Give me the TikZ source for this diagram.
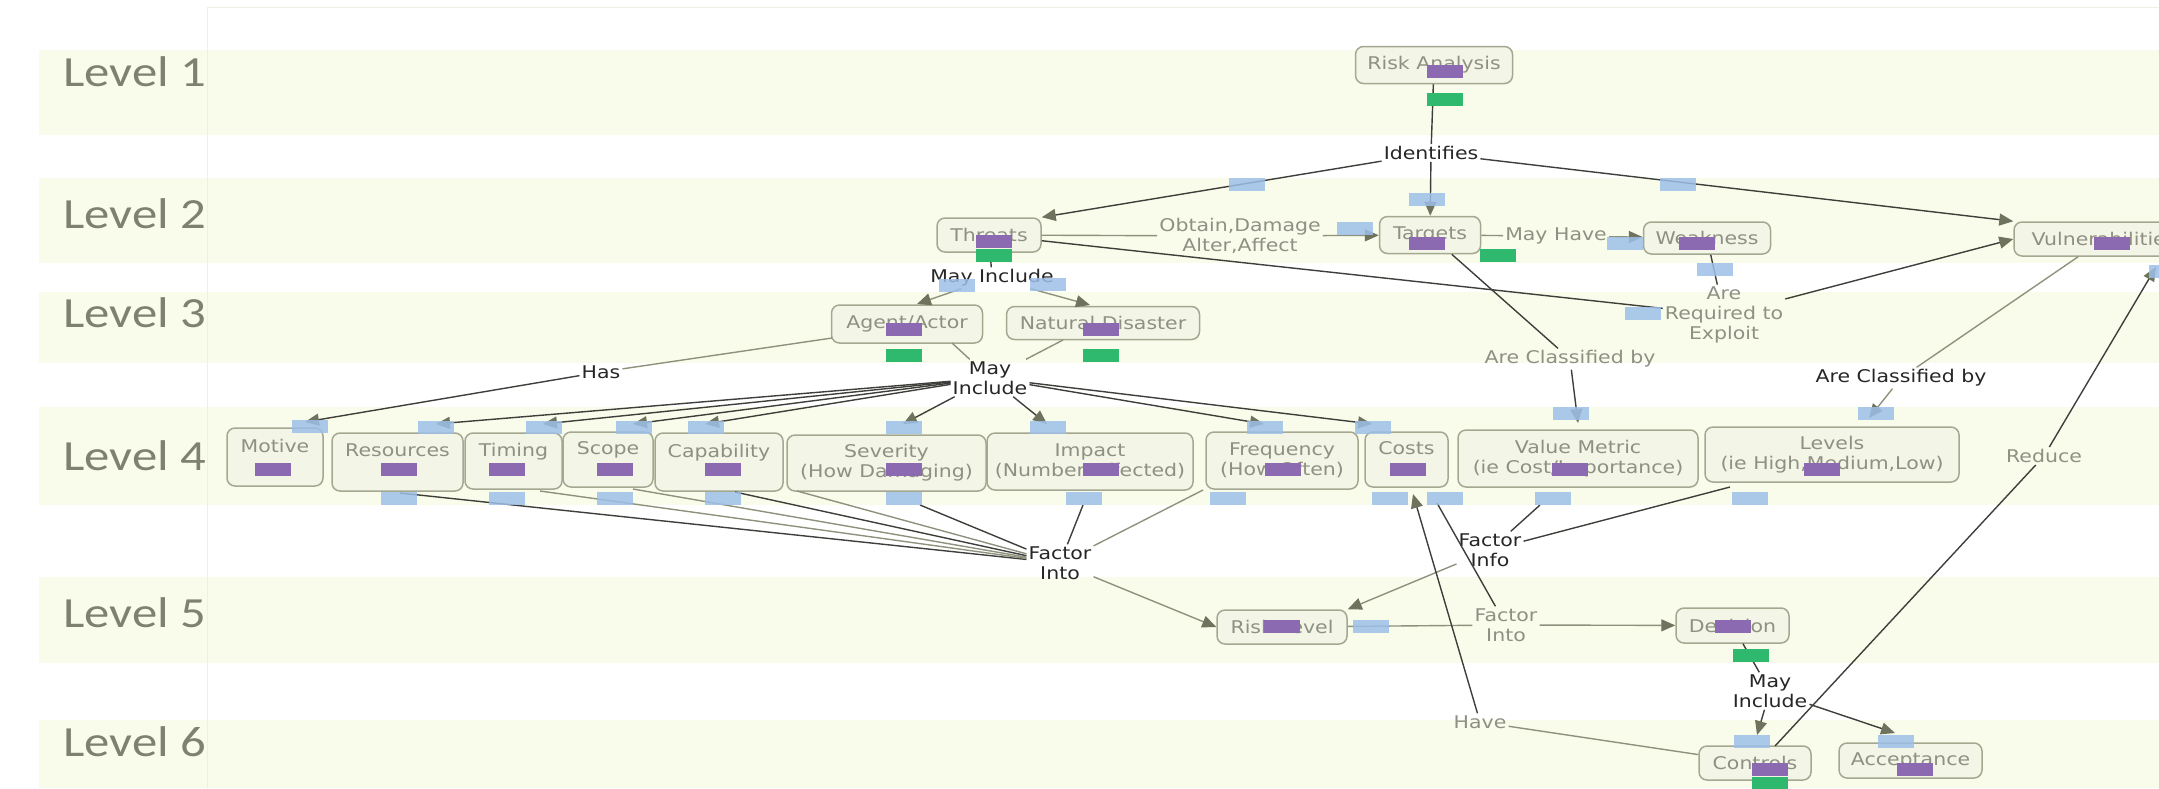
\documentclass[tikz,border=0pt]{standalone}
\usepackage{fontspec}
\setmainfont{DejaVu Sans}[FakeStretch=1.17]
\newfontfamily\levelfont{Carlito}[FakeStretch=1.18]
\usetikzlibrary{arrows.meta}

\definecolor{bandfill}{HTML}{FAFCEB}
\definecolor{framegray}{HTML}{EEF0E6}
\definecolor{conceptfill}{HTML}{F3F5E6}
\definecolor{conceptline}{HTML}{A4A891}
\definecolor{concepttext}{HTML}{8D9083}
\definecolor{linkgray}{HTML}{8E927C}
\definecolor{linkdark}{HTML}{3E3F3A}
\definecolor{arrowolive}{HTML}{6E735E}
\definecolor{tagpurple}{HTML}{8B6AB1}
\definecolor{taggreen}{HTML}{2EB96E}
\definecolor{tagblue}{HTML}{9DBFE8}
\definecolor{levelgray}{HTML}{7E8171}

\newcommand{\cmapfont}{\fontsize{17.5}{20}\selectfont}

\tikzset{
  concept/.style={draw=conceptline, fill=conceptfill, line width=1.5pt, rounded corners=8pt,
    inner sep=0pt, align=center, text=concepttext, font=\cmapfont},
  linklabel/.style={inner sep=2pt, align=center, text=concepttext, font=\cmapfont},
  linkword/.style={linklabel, text=black!85},
  levellabel/.style={inner sep=0pt, text=levelgray, font=\levelfont\fontsize{43}{45}\selectfont},
  link/.style={draw=linkgray, line width=1.4pt},
  darklink/.style={draw=linkdark, line width=1.4pt},
  arrowto/.style={-{Triangle[length=14pt,width=12pt,color=arrowolive]}},
  bluetag/.style={fill=tagblue, opacity=0.85},
}

\begin{document}
\begin{tikzpicture}[x=1pt, y=-1pt]
  \useasboundingbox (0,0) rectangle (2159,788);
  \clip (0,0) rectangle (2159,788);

  % level bands
  \foreach \ya/\yb in {50/135,178/263,292/363,407/505,577/663,720/788}
    \fill[bandfill] (39,\ya) rectangle (2159,\yb);
  \draw[framegray] (207,7) -- (2159,7);
  \draw[framegray] (207,7) -- (207,788);
  \foreach \i/\y in {1/86,2/228,3/327,4/470,5/627,6/756}
    \node[levellabel, anchor=base west] (level\i) at (63,\y) {Level \i};

  % concepts
  \node[concept, minimum width=157pt, minimum height=37pt] (risk) at (1434,65) {Risk Analysis};
  \node[concept, minimum width=104pt, minimum height=34pt] (threats) at (989,235) {Threats};
  \node[concept, minimum width=101pt, minimum height=37pt] (targets) at (1430,235) {Targets};
  \node[concept, minimum width=127pt, minimum height=32pt] (weakness) at (1707,238) {Weakness};
  \node[concept, minimum width=180pt, minimum height=34pt] (vuln) at (2104,239) {Vulnerabilities};
  \node[concept, minimum width=151pt, minimum height=38pt] (agent) at (907,324) {Agent/Actor};
  \node[concept, minimum width=193pt, minimum height=33pt] (natural) at (1103,323) {Natural Disaster};
  \node[concept, minimum width=96pt, minimum height=58pt] (motive) at (275,457) {Motive\\[-3pt]\strut};
  \node[concept, minimum width=131pt, minimum height=58pt] (resources) at (397.5,462) {Resources\\[-3pt]\strut};
  \node[concept, minimum width=97pt, minimum height=56pt] (timing) at (513.5,461) {Timing\\[-3pt]\strut};
  \node[concept, minimum width=90pt, minimum height=55pt] (scope) at (608,459.5) {Scope\\[-3pt]\strut};
  \node[concept, minimum width=128pt, minimum height=58pt] (capability) at (719,462) {Capability\\[-3pt]\strut};
  \node[concept, minimum width=199pt, minimum height=56pt] (severity) at (886.5,463) {Severity\\(How Damaging)};
  \node[concept, minimum width=206pt, minimum height=57pt] (impact) at (1090,461.5) {Impact\\(Number Affected)};
  \node[concept, minimum width=152pt, minimum height=57pt] (frequency) at (1282,460.5) {Frequency\\(How Often)};
  \node[concept, minimum width=83pt, minimum height=55pt] (costs) at (1406.5,459.5) {Costs\\[-3pt]\strut};
  \node[concept, minimum width=240pt, minimum height=57pt] (valuemetric) at (1578,458.5) {Value Metric\\(ie Cost/Importance)};
  \node[concept, minimum width=254pt, minimum height=55pt] (levels) at (1832,454.5) {Levels\\(ie High,Medium,Low)};
  \node[concept, minimum width=130pt, minimum height=34pt] (risklevel) at (1282,627) {Risk Level};
  \node[concept, minimum width=113pt, minimum height=35pt] (decision) at (1732.5,625.5) {Decision};
  \node[concept, minimum width=112pt, minimum height=34pt] (controls) at (1755,763) {Controls};
  \node[concept, minimum width=143pt, minimum height=35pt] (acceptance) at (1910.5,760.5) {Acceptance};

  % linking phrases
  \node[linkword] (identifies) at (1431,153) {Identifies};
  \node[linklabel] (obtain) at (1240,236) {Obtain,Damage\\Alter,Affect};
  \node[linklabel] (mayhave) at (1556,236) {May Have};
  \node[linklabel] (required) at (1724,315) {Are\\Required to\\Exploit};
  \node[linklabel] (classtargets) at (1570,359) {Are Classified by};
  \node[linkword] (classvuln) at (1901,378) {Are Classified by};
  \node[linkword] (mayinclthreat) at (992,278) {May Include};
  \node[linkword] (has) at (601,372) {Has};
  \node[linkword] (mayinclagent) at (990,378) {May\\Include};
  \node[linklabel] (reduce) at (2044,456) {Reduce};
  \node[linkword] (factorinto) at (1060,563) {Factor\\Into};
  \node[linkword] (factorinfo) at (1490,550) {Factor\\Info};
  \node[linklabel] (factorintorisk) at (1506,625) {Factor\\Into};
  \node[linklabel] (have) at (1480,722) {Have};
  \node[linkword] (mayincldecision) at (1770,691) {May\\Include};

  % connector ends
  \coordinate (agent-in) at (917,304);
  \coordinate (natural-in) at (1090,305);
  \coordinate (agent-out) at (832,338);
  \coordinate (agent-low) at (952,343);
  \coordinate (natural-low) at (1063,340);
  \coordinate (motive-in) at (305,422);
  \coordinate (resources-in) at (436,424);
  \coordinate (timing-in) at (543,424);
  \coordinate (scope-in) at (633,424);
  \coordinate (capability-in) at (705,424);
  \coordinate (severity-in) at (903,424);
  \coordinate (impact-in) at (1047,424);
  \coordinate (frequency-in) at (1264,424);
  \coordinate (costs-in) at (1372,424);
  \coordinate (valuemetric-in) at (1578,423);
  \coordinate (levels-in) at (1869,418);
  \coordinate (resources-out) at (400,493);
  \coordinate (timing-out) at (540,491);
  \coordinate (scope-out) at (633,489);
  \coordinate (capability-out) at (735,492);
  \coordinate (severity-outa) at (797,491);
  \coordinate (severity-outb) at (920,505);
  \coordinate (impact-out) at (1083,505);
  \coordinate (frequency-out) at (1203,490);
  \coordinate (costs-up) at (1413,494);
  \coordinate (costs-outb) at (1437,503);
  \coordinate (valuemetric-out) at (1540,505);
  \coordinate (levels-out) at (1730,487);
  \coordinate (controls-in) at (1757,735);
  \coordinate (acceptance-in) at (1895,733);
  \coordinate (controls-out) at (1775,746);
  \coordinate (vuln-in) at (2156,267);

  % connectors
  \draw[darklink] (risk) -- (identifies);
  \draw[darklink, arrowto] (identifies) -- (targets);
  \draw[darklink, arrowto] (identifies) -- (threats.north east);
  \draw[darklink, arrowto] (identifies) -- (vuln.north west);
  \draw[link] (threats) -- (obtain);
  \draw[link, arrowto] (obtain) -- (targets);
  \draw[link] (targets) -- (mayhave);
  \draw[link, arrowto] (mayhave) -- (weakness);
  \draw[darklink] (threats) -- (required);
  \draw[darklink] (weakness) -- (required);
  \draw[darklink, arrowto] (required) -- (vuln.west);
  \draw[darklink] (targets) -- (classtargets);
  \draw[darklink, arrowto] (classtargets) -- (valuemetric-in);
  \draw[link] (vuln) -- (classvuln);
  \draw[link, arrowto] (classvuln) -- (levels-in);
  \draw[darklink] (threats) -- (mayinclthreat);
  \draw[link, arrowto] (mayinclthreat) -- (agent-in);
  \draw[link, arrowto] (mayinclthreat) -- (natural-in);
  \draw[link] (agent-out) -- (has);
  \draw[darklink, arrowto] (has) -- (motive-in);
  \draw[link] (agent-low) -- (mayinclagent);
  \draw[link] (natural-low) -- (mayinclagent);
  \foreach \n in {resources,timing,scope,capability,severity,impact,frequency,costs}
    \draw[darklink, arrowto] (mayinclagent) -- (\n-in);
  \foreach \n/\s in {resources-out/darklink,timing-out/link,scope-out/link,capability-out/darklink,
      severity-outa/link,severity-outb/darklink,impact-out/darklink,frequency-out/link}
    \draw[\s] (\n) -- (factorinto);
  \draw[link, arrowto] (factorinto) -- (risklevel.west);
  \draw[darklink] (valuemetric-out) -- (factorinfo);
  \draw[darklink] (levels-out) -- (factorinfo);
  \draw[link, arrowto] (factorinfo) -- (risklevel.north east);
  \draw[link] (risklevel) -- (factorintorisk);
  \draw[link, arrowto] (factorintorisk) -- (decision);
  \draw[darklink] (costs-outb) -- (factorintorisk);
  \draw[link] (controls) -- (have);
  \draw[darklink, arrowto] (have) -- (costs-up);
  \draw[darklink] (decision) -- (mayincldecision);
  \draw[darklink, arrowto] (mayincldecision) -- (controls-in);
  \draw[darklink, arrowto] (mayincldecision) -- (acceptance-in);
  \draw[darklink] (controls-out) -- (reduce);
  \draw[darklink, arrowto] (reduce) -- (vuln-in);

  % annotation tags
  \foreach \x/\y in {1427/65,976/235,1409/237,1679/237,2094/237,886/323,1083/323,
      255/463,381/463,489/463,597/463,705/463,886/463,1083/463,1265/463,1390/463,
      1552/463,1804/463,1264/620,1715/620,1752/763,1897/763}
    \fill[tagpurple] (\x,\y) rectangle ++(36,13);
  \foreach \x/\y in {1427/93,976/249,1480/249,886/349,1083/349,1733/649,1752/777}
    \fill[taggreen] (\x,\y) rectangle ++(36,13);
  \foreach \x/\y in {1229/178,1409/193,1660/178,1337/222,1607/237,1697/263,1625/307,
      939/279,1030/278,2149/265,292/420,418/421,381/492,526/421,489/492,616/421,
      597/492,688/421,705/492,886/421,886/492,1030/421,1066/492,1247/421,1210/492,
      1355/421,1372/492,1427/492,1553/407,1535/492,1858/407,1732/492,1353/620,
      1734/735,1878/735}
    \fill[bluetag] (\x,\y) rectangle ++(36,13);
\end{tikzpicture}
\end{document}
